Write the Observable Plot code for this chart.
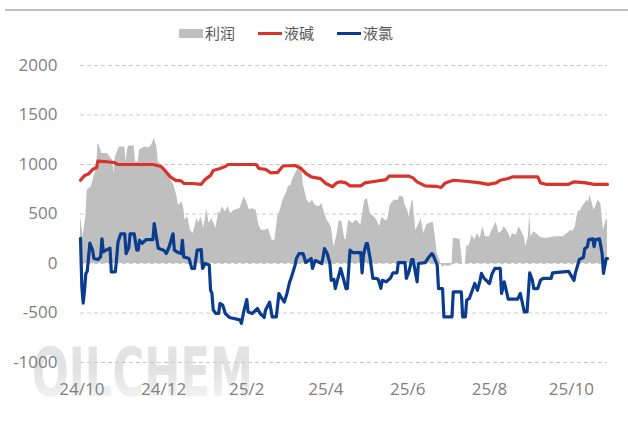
<!DOCTYPE html>
<html>
<head>
<meta charset="utf-8">
<script src="https://cdn.jsdelivr.net/npm/d3@7"></script>
<script src="https://cdn.jsdelivr.net/npm/@observablehq/plot@0.6"></script>
<style>
  body { margin: 0; background: #fff; font-family: "Open Sans", "Noto Sans CJK SC", sans-serif; }
  #wrap { position: relative; width: 628px; height: 424px; overflow: hidden; background: #fff; }
  #topline { position: absolute; left: 5px; right: 0; top: 9px; height: 2px; background: #c0c0c0; }
  #legend { position: absolute; top: 23px; left: 179px; display: flex; align-items: center; font-family: "Noto Sans CJK SC", sans-serif; font-size: 15px; color: #595959; line-height: 20px; }
  .item { display: flex; align-items: center; margin-right: 23px; }
  .sw { width: 24px; margin-right: 2px; }
  #wm, #chart { position: absolute; left: 0; top: 0; }
</style>
</head>
<body>
<div id="wrap">
  <svg id="wm" width="628" height="424">
    <defs>
      <linearGradient id="wmg" x1="0" y1="0" x2="0" y2="1">
        <stop offset="0" stop-color="#e6e6e6"/>
        <stop offset="0.45" stop-color="#e1e1e1"/>
        <stop offset="1" stop-color="#fbfbfb"/>
      </linearGradient>
    </defs>
    <text x="32" y="396" font-family="DejaVu Sans" font-weight="bold" font-size="68" textLength="221" lengthAdjust="spacingAndGlyphs" fill="url(#wmg)">OILCHEM</text>
  </svg>
  <div id="chart"></div>
  <div id="topline"></div>
  <div id="legend"></div>
</div>
<script>
const seriesNames = ["利润", "液碱", "液氯"];
const seriesColors = ["#bfbfbf", "#d9342b", "#0b3d8f"];

const yTicks = [-1000, -500, 0, 500, 1000, 1500, 2000];
const xTickDates = ["2024-10-01", "2024-12-01", "2025-02-01", "2025-04-01", "2025-06-01", "2025-08-01", "2025-10-01"];
const xTickLabels = ["24/10", "24/12", "25/2", "25/4", "25/6", "25/8", "25/10"];

// 利润 (profit)
const profit = [["2024-09-30",470],["2024-10-02",270],["2024-10-04",480],["2024-10-05",740],["2024-10-08",775],["2024-10-10",875],["2024-10-12",960],["2024-10-13",1212],["2024-10-14",1195],["2024-10-16",1110],["2024-10-20",1110],["2024-10-22",1077],["2024-10-24",1043],["2024-10-25",909],["2024-10-26",1077],["2024-10-28",1144],["2024-10-29",1178],["2024-11-02",1178],["2024-11-03",1026],["2024-11-04",1144],["2024-11-05",1188],["2024-11-09",1188],["2024-11-10",1026],["2024-11-12",1026],["2024-11-13",1144],["2024-11-15",1161],["2024-11-17",1178],["2024-11-20",1170],["2024-11-22",1195],["2024-11-24",1262],["2024-11-26",1178],["2024-11-27",1026],["2024-11-30",993],["2024-12-02",960],["2024-12-05",875],["2024-12-07",835],["2024-12-09",774],["2024-12-11",673],["2024-12-12",589],["2024-12-14",610],["2024-12-15",622],["2024-12-16",556],["2024-12-17",440],["2024-12-19",470],["2024-12-21",336],["2024-12-23",303],["2024-12-26",454],["2024-12-27",404],["2024-12-29",470],["2024-12-31",353],["2025-01-02",556],["2025-01-04",404],["2025-01-06",454],["2025-01-09",353],["2025-01-11",521],["2025-01-12",505],["2025-01-14",572],["2025-01-16",521],["2025-01-18",572],["2025-01-20",505],["2025-01-23",538],["2025-01-27",556],["2025-01-30",673],["2025-02-01",622],["2025-02-03",538],["2025-02-05",556],["2025-02-08",538],["2025-02-10",387],["2025-02-12",336],["2025-02-15",336],["2025-02-17",353],["2025-02-20",235],["2025-02-22",235],["2025-02-24",470],["2025-02-26",538],["2025-02-28",640],["2025-03-03",724],["2025-03-04",774],["2025-03-06",791],["2025-03-07",841],["2025-03-10",925],["2025-03-12",976],["2025-03-14",960],["2025-03-15",808],["2025-03-18",640],["2025-03-20",606],["2025-03-22",640],["2025-03-24",589],["2025-03-27",572],["2025-03-29",606],["2025-03-31",505],["2025-04-02",437],["2025-04-05",370],["2025-04-07",168],["2025-04-09",269],["2025-04-11",437],["2025-04-13",420],["2025-04-15",252],["2025-04-16",235],["2025-04-18",437],["2025-04-21",404],["2025-04-24",437],["2025-04-27",387],["2025-04-30",640],["2025-05-02",656],["2025-05-04",505],["2025-05-07",470],["2025-05-09",437],["2025-05-11",370],["2025-05-13",470],["2025-05-15",437],["2025-05-17",437],["2025-05-19",589],["2025-05-22",640],["2025-05-25",640],["2025-05-26",680],["2025-05-29",670],["2025-05-30",589],["2025-06-01",538],["2025-06-02",470],["2025-06-04",622],["2025-06-05",640],["2025-06-07",336],["2025-06-09",387],["2025-06-11",454],["2025-06-13",303],["2025-06-15",387],["2025-06-17",404],["2025-06-20",420],["2025-06-21",336],["2025-06-23",100],["2025-06-24",67],["2025-06-27",-40],["2025-06-29",-20],["2025-07-01",-30],["2025-07-04",-20],["2025-07-05",252],["2025-07-07",252],["2025-07-10",242],["2025-07-12",0],["2025-07-14",0],["2025-07-15",168],["2025-07-17",185],["2025-07-19",286],["2025-07-21",235],["2025-07-23",303],["2025-07-25",252],["2025-07-27",370],["2025-07-29",269],["2025-08-01",269],["2025-08-03",336],["2025-08-06",420],["2025-08-08",303],["2025-08-10",320],["2025-08-12",370],["2025-08-14",336],["2025-08-17",252],["2025-08-18",303],["2025-08-21",286],["2025-08-23",370],["2025-08-25",320],["2025-08-27",269],["2025-08-28",168],["2025-08-30",269],["2025-08-31",505],["2025-09-01",269],["2025-09-03",320],["2025-09-05",303],["2025-09-08",262],["2025-09-12",252],["2025-09-19",269],["2025-09-25",269],["2025-09-28",303],["2025-10-01",336],["2025-10-02",320],["2025-10-04",370],["2025-10-06",521],["2025-10-08",538],["2025-10-10",589],["2025-10-13",640],["2025-10-14",622],["2025-10-15",690],["2025-10-16",640],["2025-10-18",538],["2025-10-21",640],["2025-10-23",606],["2025-10-25",336],["2025-10-27",437],["2025-10-28",454]];

// 液碱 (caustic soda)
const soda = [["2024-09-30",840],["2024-10-03",890],["2024-10-06",905],["2024-10-09",950],["2024-10-12",970],["2024-10-13",1035],["2024-10-18",1030],["2024-10-25",1020],["2024-10-28",1000],["2024-11-23",1000],["2024-11-29",980],["2024-12-02",940],["2024-12-06",875],["2024-12-10",840],["2024-12-14",835],["2024-12-16",810],["2024-12-23",808],["2024-12-29",800],["2025-01-01",850],["2025-01-05",890],["2025-01-07",940],["2025-01-12",960],["2025-01-16",980],["2025-01-18",1000],["2025-02-08",1000],["2025-02-10",960],["2025-02-15",950],["2025-02-19",915],["2025-02-24",920],["2025-02-28",985],["2025-03-09",990],["2025-03-13",965],["2025-03-17",910],["2025-03-21",875],["2025-03-28",858],["2025-04-01",808],["2025-04-06",775],["2025-04-09",814],["2025-04-12",825],["2025-04-16",814],["2025-04-19",784],["2025-04-27",784],["2025-04-30",814],["2025-05-08",831],["2025-05-16",848],["2025-05-18",882],["2025-06-02",882],["2025-06-05",865],["2025-06-08",825],["2025-06-14",784],["2025-06-22",780],["2025-06-26",768],["2025-06-29",814],["2025-07-05",841],["2025-07-14",831],["2025-07-22",820],["2025-07-25",814],["2025-07-31",800],["2025-08-06",814],["2025-08-09",841],["2025-08-15",858],["2025-08-18",875],["2025-09-06",875],["2025-09-08",814],["2025-09-12",800],["2025-09-29",800],["2025-10-03",825],["2025-10-08",820],["2025-10-12",814],["2025-10-18",800],["2025-10-28",800]];

// 液氯 (liquid chlorine)
const chlorine = [["2024-09-30",255],["2024-10-01",-236],["2024-10-02",-400],["2024-10-03",-270],["2024-10-04",-100],["2024-10-05",-80],["2024-10-07",205],["2024-10-09",135],["2024-10-10",50],["2024-10-13",40],["2024-10-15",67],["2024-10-16",250],["2024-10-17",117],["2024-10-19",135],["2024-10-22",154],["2024-10-23",-85],["2024-10-26",-85],["2024-10-28",218],["2024-10-30",300],["2024-11-02",300],["2024-11-03",100],["2024-11-05",160],["2024-11-06",300],["2024-11-09",300],["2024-11-11",135],["2024-11-12",135],["2024-11-13",235],["2024-11-15",205],["2024-11-18",242],["2024-11-23",242],["2024-11-24",404],["2024-11-26",235],["2024-11-27",154],["2024-12-01",135],["2024-12-03",100],["2024-12-05",165],["2024-12-08",300],["2024-12-09",135],["2024-12-11",117],["2024-12-14",100],["2024-12-15",235],["2024-12-16",67],["2024-12-20",50],["2024-12-22",-50],["2024-12-24",-50],["2024-12-26",135],["2024-12-29",140],["2024-12-30",-50],["2025-01-01",0],["2025-01-04",-15],["2025-01-05",-270],["2025-01-06",-300],["2025-01-07",-470],["2025-01-09",-505],["2025-01-11",-505],["2025-01-12",-404],["2025-01-14",-420],["2025-01-16",-505],["2025-01-19",-545],["2025-01-27",-570],["2025-01-28",-605],["2025-01-30",-470],["2025-02-01",-364],["2025-02-02",-490],["2025-02-05",-505],["2025-02-09",-455],["2025-02-11",-505],["2025-02-14",-545],["2025-02-15",-470],["2025-02-18",-390],["2025-02-20",-540],["2025-02-23",-540],["2025-02-25",-303],["2025-02-27",-350],["2025-03-01",-390],["2025-03-03",-300],["2025-03-05",-185],["2025-03-06",-150],["2025-03-09",-17],["2025-03-10",50],["2025-03-12",100],["2025-03-15",100],["2025-03-17",10],["2025-03-21",50],["2025-03-22",-50],["2025-03-24",30],["2025-03-29",0],["2025-03-31",150],["2025-04-02",100],["2025-04-04",0],["2025-04-05",-170],["2025-04-07",-160],["2025-04-08",-253],["2025-04-10",-150],["2025-04-12",-50],["2025-04-14",-150],["2025-04-16",-253],["2025-04-17",-253],["2025-04-19",135],["2025-04-21",110],["2025-04-27",110],["2025-04-28",-95],["2025-04-29",85],["2025-05-01",200],["2025-05-02",200],["2025-05-04",50],["2025-05-06",-150],["2025-05-08",-150],["2025-05-10",-160],["2025-05-12",-250],["2025-05-13",-170],["2025-05-16",-185],["2025-05-19",-150],["2025-05-21",-95],["2025-05-24",-95],["2025-05-25",8],["2025-05-30",8],["2025-05-31",-150],["2025-06-02",-80],["2025-06-04",40],["2025-06-05",40],["2025-06-08",-185],["2025-06-09",0],["2025-06-14",8],["2025-06-16",50],["2025-06-19",100],["2025-06-20",85],["2025-06-23",-17],["2025-06-24",-253],["2025-06-27",-253],["2025-06-28",-540],["2025-07-04",-540],["2025-07-05",-287],["2025-07-11",-287],["2025-07-12",-540],["2025-07-14",-540],["2025-07-15",-370],["2025-07-17",-353],["2025-07-21",-202],["2025-07-23",-270],["2025-07-25",-170],["2025-07-26",-100],["2025-07-28",-150],["2025-08-01",-202],["2025-08-03",-100],["2025-08-05",-50],["2025-08-09",-50],["2025-08-10",-303],["2025-08-12",-185],["2025-08-15",-360],["2025-08-22",-360],["2025-08-24",-303],["2025-08-27",-490],["2025-08-29",-490],["2025-08-31",-95],["2025-09-02",-170],["2025-09-03",-253],["2025-09-06",-253],["2025-09-08",-170],["2025-09-10",-150],["2025-09-16",-150],["2025-09-17",-95],["2025-09-29",-80],["2025-10-03",-170],["2025-10-04",-100],["2025-10-07",40],["2025-10-10",60],["2025-10-11",150],["2025-10-13",170],["2025-10-14",242],["2025-10-17",250],["2025-10-18",170],["2025-10-19",242],["2025-10-22",250],["2025-10-24",100],["2025-10-25",-100],["2025-10-27",50],["2025-10-28",50]];

const toRows = arr => arr.map(([d, v]) => ({date: new Date(d), value: v}));
const profitRows = toRows(profit);
const sodaRows = toRows(soda);
const chlorineRows = toRows(chlorine);
const tickDates = xTickDates.map(d => new Date(d));

const chart = Plot.plot({
  width: 628,
  height: 424,
  marginTop: 65,
  marginBottom: 62,
  marginLeft: 80,
  marginRight: 21,
  style: {background: "transparent", color: "#7f7f7f", fontFamily: "'Open Sans', 'Noto Sans CJK SC', sans-serif", fontSize: "17px"},
  x: {type: "utc", domain: [new Date(profit[0][0]), new Date(profit[profit.length - 1][0])], label: null},
  y: {domain: [-1000, 2000], label: null},
  marks: [
    Plot.gridY(yTicks, {stroke: "#c8c8c8", strokeOpacity: 1, strokeWidth: 1, strokeDasharray: "4,3"}),
    Plot.areaY(profitRows, {x: "date", y: "value", fill: seriesColors[0]}),
    Plot.line(sodaRows, {x: "date", y: "value", stroke: seriesColors[1], strokeWidth: 3.2, strokeLinejoin: "round"}),
    Plot.line(chlorineRows, {x: "date", y: "value", stroke: seriesColors[2], strokeWidth: 3.2, strokeLinejoin: "round"}),
    Plot.axisY(yTicks, {tickSize: 0, tickPadding: 23, fontSize: 17, fill: "#7f7f7f", label: null, tickFormat: d => String(d)}),
    Plot.axisX(tickDates, {tickSize: 0, tickPadding: 20, fontSize: 17, fill: "#7f7f7f", label: null,
      tickFormat: d => xTickLabels[tickDates.findIndex(t => +t === +d)]})
  ]
});
document.getElementById("chart").appendChild(chart);

// Legend
const legend = document.getElementById("legend");
seriesNames.forEach((name, i) => {
  const item = document.createElement("div");
  item.className = "item";
  const sw = document.createElement("span");
  sw.className = "sw";
  sw.style.height = i === 0 ? "9px" : "3px";
  sw.style.background = seriesColors[i];
  const label = document.createElement("span");
  label.textContent = name;
  item.appendChild(sw);
  item.appendChild(label);
  legend.appendChild(item);
});
</script>
</body>
</html>
